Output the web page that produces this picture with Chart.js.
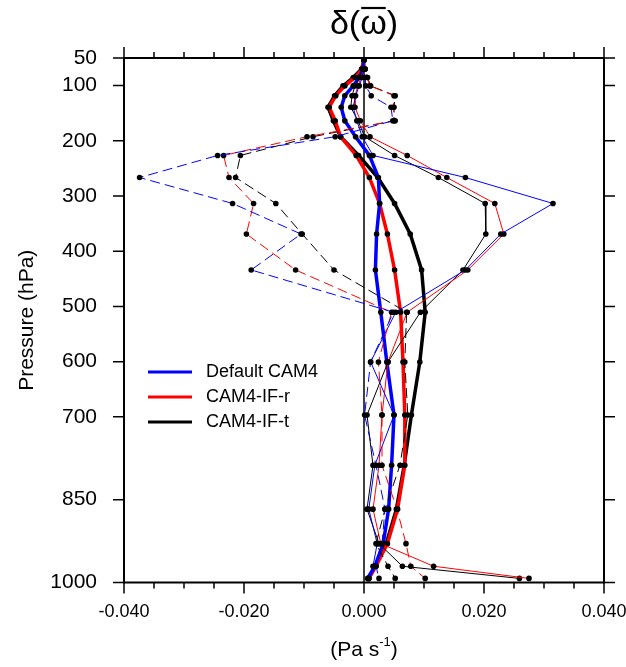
<!DOCTYPE html>
<html>
<head>
<meta charset="utf-8">
<script src="https://cdn.jsdelivr.net/npm/chart.js@4.4.1/dist/chart.umd.min.js"></script>
<style>
  html, body { margin: 0; padding: 0; background: #fff; }
  #c { display: block; }
</style>
</head>
<body>
<canvas id="c" width="626" height="667"></canvas>
<script>
/* ============ Data ============ */
// model mid-level pressures (hPa)
const levels = [53.11, 70.06, 85.44, 100.51, 118.25, 139.12, 163.66, 192.54, 226.51, 266.48,
    313.50, 368.82, 433.90, 510.46, 600.52, 696.80, 787.70, 867.16, 929.65, 970.55, 992.56];

// thick lines (mean)
const meanDefault = [0.0000, -0.0001, -0.0008, -0.0018, -0.0032, -0.0038, -0.0032, -0.0014, 0.0009, 0.0024,
    0.0026, 0.0021, 0.0019, 0.0028, 0.0038, 0.0050, 0.0046, 0.0041, 0.0032, 0.0018, 0.0006];
const meanIFr = [0.0000, -0.0003, -0.0015, -0.0032, -0.0047, -0.0058, -0.0048, -0.0039, -0.0013, 0.0009,
    0.0026, 0.0039, 0.0051, 0.0061, 0.0065, 0.0068, 0.0068, 0.0056, 0.0039, 0.0020, 0.0008];
const meanIFt = [0.0000, -0.0004, -0.0018, -0.0035, -0.0049, -0.0060, -0.0051, -0.0039, -0.0009, 0.0023,
    0.0051, 0.0077, 0.0096, 0.0102, 0.0093, 0.0079, 0.0067, 0.0054, 0.0037, 0.0019, 0.0008];

// thin solid lines
const solidDefault = [0.0000, 0.0000, -0.0003, -0.0008, -0.0014, -0.0018, -0.0012, -0.0003, 0.0015, 0.0169,
    0.0315, 0.0228, 0.0169, 0.0053, 0.0011, 0.0050, 0.0018, 0.0008, 0.0022, 0.0015, 0.0008];
const solidIFr = [0.0000, -0.0001, -0.0005, -0.0010, -0.0015, -0.0015, -0.0006, 0.0010, 0.0072, 0.0138,
    0.0218, 0.0233, 0.0173, 0.0072, 0.0040, 0.0030, 0.0025, 0.0015, 0.0028, 0.0116, 0.0275];
const solidIFt = [0.0000, -0.0002, -0.0008, -0.0015, -0.0020, -0.0022, -0.0010, 0.0001, 0.0051, 0.0124,
    0.0202, 0.0203, 0.0165, 0.0094, 0.0040, 0.0005, 0.0015, 0.0005, 0.0025, 0.0064, 0.0259];

// thin dashed lines
const dashDefault = [0.0000, 0.0000, 0.0002, 0.0003, 0.0012, 0.0045, 0.0048, -0.0048, -0.0244, -0.0374,
    -0.0219, -0.0105, -0.0188, 0.0049, 0.0011, 0.0001, 0.0020, 0.0035, 0.0030, 0.0020, 0.0025];
const dashIFr = [0.0000, 0.0002, 0.0005, 0.0010, 0.0050, 0.0049, 0.0052, -0.0095, -0.0234, -0.0225,
    -0.0184, -0.0196, -0.0114, 0.0046, 0.0024, 0.0030, 0.0030, 0.0055, 0.0070, 0.0078, 0.0102];
const dashIFt = [0.0000, 0.0002, 0.0006, 0.0011, 0.0052, 0.0050, 0.0050, -0.0085, -0.0206, -0.0214,
    -0.0147, -0.0103, -0.0050, 0.0071, 0.0068, 0.0073, 0.0060, 0.0035, 0.0020, 0.0040, 0.0052];

const seriesNames = ["Default CAM4", "CAM4-IF-r", "CAM4-IF-t"];
const seriesColors = ["#0000ff", "#ff0000", "#000000"];

// axis ticks
const yTicks = [50, 100, 200, 300, 400, 500, 600, 700, 850, 1000];
const xMajor = [-0.04, -0.02, 0, 0.02, 0.04];
const xMinor = [-0.035, -0.03, -0.025, -0.015, -0.01, -0.005, 0.005, 0.01, 0.015, 0.025, 0.03, 0.035];

/* ============ Helpers ============ */
const FONT = "'Liberation Sans', Arial, Helvetica, sans-serif";

function pts(vals) {
    return vals.map((v, i) => ({x: v, y: levels[i]}));
}

function line(vals, color, kind) {
    return {
        label: kind,
        data: pts(vals),
        showLine: true,
        borderColor: color,
        backgroundColor: color,
        borderWidth: kind === "mean" ? 3.5 : 1,
        borderDash: kind === "dash" ? [10, 5] : [],
        pointRadius: 2.8,
        pointBackgroundColor: "#000",
        pointBorderColor: "#000",
        pointBorderWidth: 0,
        tension: 0,
    };
}

/* ============ Frame / labels plugin ============ */
const frame = {
    id: "frame",
    beforeDatasetsDraw(chart) {
        const {ctx, chartArea: a, scales: {x}} = chart;
        ctx.save();
        ctx.strokeStyle = "#000";
        ctx.lineWidth = 1.5;
        const x0 = x.getPixelForValue(0);
        ctx.beginPath();
        ctx.moveTo(x0, a.top);
        ctx.lineTo(x0, a.bottom);
        ctx.stroke();
        ctx.restore();
    },
    afterDraw(chart) {
        const {ctx, chartArea: a, scales: {x, y}} = chart;
        ctx.save();
        ctx.strokeStyle = "#000";
        ctx.lineWidth = 2;
        ctx.strokeRect(a.left, a.top, a.right - a.left, a.bottom - a.top);

        // outward tick marks
        ctx.lineWidth = 1.5;
        ctx.beginPath();
        for (const v of yTicks) {
            const py = y.getPixelForValue(v);
            ctx.moveTo(a.left - 11, py); ctx.lineTo(a.left, py);
            ctx.moveTo(a.right, py); ctx.lineTo(a.right + 11, py);
        }
        for (const v of xMajor) {
            const px = x.getPixelForValue(v);
            ctx.moveTo(px, a.bottom); ctx.lineTo(px, a.bottom + 11);
            ctx.moveTo(px, a.top); ctx.lineTo(px, a.top - 11);
        }
        for (const v of xMinor) {
            const px = x.getPixelForValue(v);
            ctx.moveTo(px, a.bottom); ctx.lineTo(px, a.bottom + 6);
            ctx.moveTo(px, a.top); ctx.lineTo(px, a.top - 6);
        }
        ctx.stroke();

        // title: delta(omega-bar)
        ctx.fillStyle = "#000";
        ctx.font = "34px " + FONT;
        ctx.textBaseline = "alphabetic";
        const cx = (a.left + a.right) / 2;
        const parts = ["\u03b4(", "\u03c9", ")"];
        const widths = parts.map(p => ctx.measureText(p).width);
        let tx = cx - widths.reduce((s, w) => s + w, 0) / 2;
        const base = 34;
        parts.forEach((p, i) => {
            ctx.fillText(p, tx, base);
            if (i === 1) {
                ctx.lineWidth = 2.2;
                ctx.beginPath();
                ctx.moveTo(tx + 1, base - 26);
                ctx.lineTo(tx + widths[i] - 1, base - 26);
                ctx.stroke();
            }
            tx += widths[i];
        });

        // y-axis title
        ctx.save();
        ctx.translate(27, (a.top + a.bottom) / 2);
        ctx.rotate(-Math.PI / 2);
        ctx.font = "21px " + FONT;
        ctx.textAlign = "center";
        ctx.textBaseline = "middle";
        ctx.fillText("Pressure (hPa)", 0, 0);
        ctx.restore();

        // x-axis title with superscript
        ctx.font = "21px " + FONT;
        const t1 = "(Pa s", t2 = "-1", t3 = ")";
        const w1 = ctx.measureText(t1).width;
        const w3 = ctx.measureText(t3).width;
        ctx.font = "13px " + FONT;
        const w2 = ctx.measureText(t2).width;
        let sx = cx - (w1 + w2 + w3) / 2;
        const sb = 656;
        ctx.font = "21px " + FONT;
        ctx.fillText(t1, sx, sb);
        ctx.font = "13px " + FONT;
        ctx.fillText(t2, sx + w1, sb - 10);
        ctx.font = "21px " + FONT;
        ctx.fillText(t3, sx + w1 + w2, sb);

        // legend
        const ly = [372, 397, 422];
        ctx.font = "18px " + FONT;
        ctx.textBaseline = "middle";
        seriesNames.forEach((name, i) => {
            ctx.strokeStyle = seriesColors[i];
            ctx.lineWidth = 3;
            ctx.beginPath();
            ctx.moveTo(148, ly[i]);
            ctx.lineTo(192, ly[i]);
            ctx.stroke();
            ctx.fillStyle = "#000";
            ctx.fillText(name, 206, ly[i]);
        });
        ctx.restore();
    }
};

/* ============ Chart ============ */
const datasets = [
    line(dashDefault, seriesColors[0], "dash"),
    line(dashIFr, seriesColors[1], "dash"),
    line(dashIFt, seriesColors[2], "dash"),
    line(solidDefault, seriesColors[0], "solid"),
    line(solidIFr, seriesColors[1], "solid"),
    line(solidIFt, seriesColors[2], "solid"),
    line(meanDefault, seriesColors[0], "mean"),
    line(meanIFr, seriesColors[1], "mean"),
    line(meanIFt, seriesColors[2], "mean"),
];

new Chart(document.getElementById("c"), {
    type: "scatter",
    data: {datasets},
    options: {
        responsive: false,
        animation: false,
        devicePixelRatio: 1,
        layout: {padding: {top: 58, right: 22, left: 0, bottom: 0}},
        plugins: {legend: {display: false}, tooltip: {enabled: false}},
        scales: {
            x: {
                type: "linear",
                min: -0.04,
                max: 0.04,
                afterBuildTicks: s => { s.ticks = xMajor.map(v => ({value: v})); },
                afterFit: s => { s.height = 84.5; s.paddingLeft = 0; s.paddingRight = 0; },
                grid: {display: false, drawTicks: false},
                border: {display: false},
                ticks: {
                    autoSkip: false,
                    maxRotation: 0,
                    padding: 19,
                    color: "#000",
                    font: {family: FONT, size: 18},
                    callback: v => v.toFixed(3),
                },
            },
            y: {
                type: "linear",
                reverse: true,
                min: 50,
                max: 1000,
                afterBuildTicks: s => { s.ticks = yTicks.map(v => ({value: v})); },
                afterFit: s => { s.width = 124; s.paddingTop = 0; s.paddingBottom = 0; },
                grid: {display: false, drawTicks: false},
                border: {display: false},
                ticks: {
                    autoSkip: false,
                    padding: 27,
                    color: "#000",
                    font: {family: FONT, size: 21},
                    callback: v => String(v),
                },
            },
        },
    },
    plugins: [frame],
});
</script>
</body>
</html>
